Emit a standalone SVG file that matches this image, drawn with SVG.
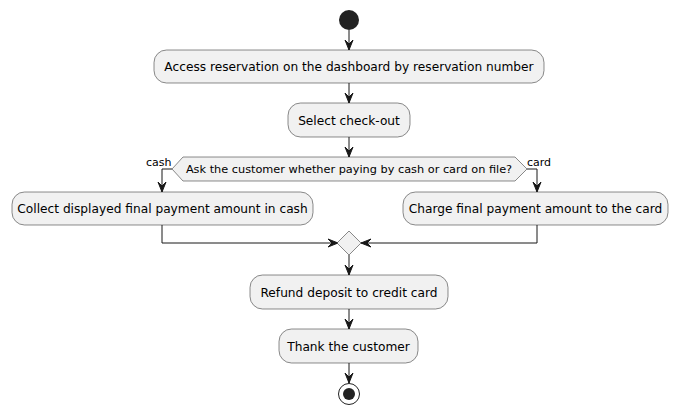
<svg xmlns="http://www.w3.org/2000/svg" width="678" height="415" viewBox="0 0 678 415">
<style>
.box{fill:#F1F1F1;stroke:#181818;stroke-width:0.5}
.t{font-family:"DejaVu Sans",sans-serif;font-size:12.2px;fill:#000;text-anchor:middle}
.s{font-family:"DejaVu Sans",sans-serif;font-size:11px;fill:#000}
.d{font-family:"DejaVu Sans",sans-serif;font-size:11.3px;fill:#000;text-anchor:middle}
.ln{fill:none;stroke:#181818;stroke-width:1}
.ah{fill:#181818;stroke:#181818;stroke-width:1}
</style>
<rect width="678" height="415" fill="#FFFFFF"/>
<g id="connectors">
<path class="ln" d="M349,30 V50"/><path class="ah" d="M349,50 L345,40 L349,44 L353,40 Z"/>
<path class="ln" d="M349,83 V103"/><path class="ah" d="M349,103 L345,93 L349,97 L353,93 Z"/>
<path class="ln" d="M349,137 V157"/><path class="ah" d="M349,157 L345,147 L349,151 L353,147 Z"/>
<path class="ln" d="M172,169 H162 V192"/><path class="ah" d="M162,192 L158,182 L162,186 L166,182 Z"/>
<path class="ln" d="M527,169 H537 V192"/><path class="ah" d="M537,192 L533,182 L537,186 L541,182 Z"/>
<path class="ln" d="M162,225 V243 H338"/><path class="ah" d="M338,243 L328,239 L332,243 L328,247 Z"/>
<path class="ln" d="M537,225 V243 H361"/><path class="ah" d="M361,243 L371,239 L367,243 L371,247 Z"/>
<path class="ln" d="M349,255 V275"/><path class="ah" d="M349,275 L345,265 L349,269 L353,265 Z"/>
<path class="ln" d="M349,309 V329"/><path class="ah" d="M349,329 L345,319 L349,323 L353,319 Z"/>
<path class="ln" d="M349,363 V383"/><path class="ah" d="M349,383 L345,373 L349,377 L353,373 Z"/>
<text class="s" x="146" y="166">cash</text>
<text class="s" x="527" y="166">card</text>
</g>
<g id="start"><circle cx="349" cy="20" r="10" fill="#222222"/></g>
<g id="access"><rect class="box" x="154" y="50" width="390" height="33" rx="12.5"/><text class="t" x="349" y="71">Access reservation on the dashboard by reservation number</text></g>
<g id="select"><rect class="box" x="288" y="103" width="122" height="34" rx="12.5"/><text class="t" x="349" y="124.5">Select check-out</text></g>
<g id="decision"><polygon class="box" points="172,169 183,157 515,157 527,169 515,181 183,181"/><text class="d" x="349" y="173">Ask the customer whether paying by cash or card on file?</text></g>
<g id="cash"><rect class="box" x="12" y="192" width="301" height="33" rx="12.5"/><text class="t" x="162.5" y="213">Collect displayed final payment amount in cash</text></g>
<g id="card"><rect class="box" x="403" y="192" width="265" height="33" rx="12.5"/><text class="t" x="535.5" y="213">Charge final payment amount to the card</text></g>
<g id="merge"><polygon class="box" points="349,231 361,243 349,255 337,243"/></g>
<g id="refund"><rect class="box" x="250" y="275" width="198" height="34" rx="12.5"/><text class="t" x="349" y="296.5">Refund deposit to credit card</text></g>
<g id="thank"><rect class="box" x="279" y="329" width="139" height="34" rx="12.5"/><text class="t" x="348.5" y="350.5">Thank the customer</text></g>
<g id="end"><circle cx="349" cy="394" r="10.5" fill="none" stroke="#222222" stroke-width="1"/><circle cx="349" cy="394" r="6" fill="#222222"/></g>
</svg>
